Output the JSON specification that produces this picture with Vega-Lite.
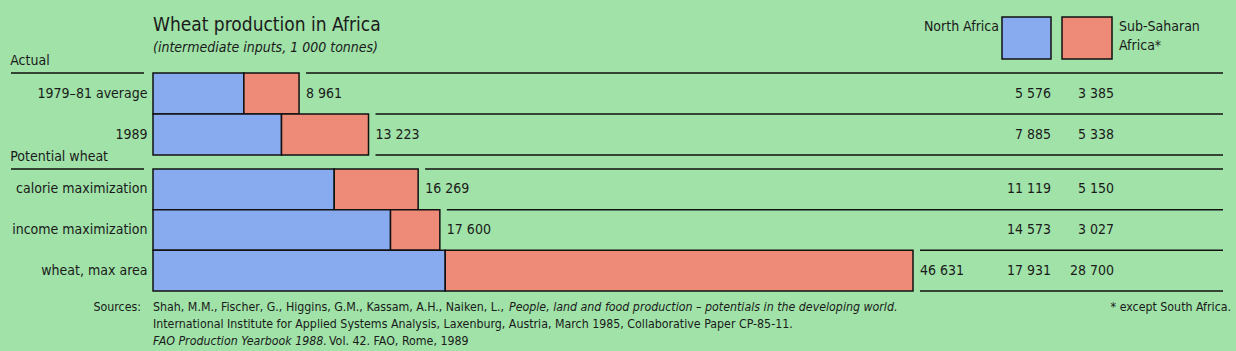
{
  "$schema": "https://vega.github.io/schema/vega-lite/v6.json",
  "background": "#a0e2a8",
  "padding": {"left": 10, "top": 16, "right": 6, "bottom": 6},
  "autosize": {"type": "pad"},
  "spacing": -6,
  "datasets": {
    "rows": [
      {"section": "Actual", "label": "1979–81 average", "north": 5576, "sub": 3385, "total": 8961},
      {"section": "Actual", "label": "1989", "north": 7885, "sub": 5338, "total": 13223},
      {"section": "Potential wheat", "label": "calorie maximization", "north": 11119, "sub": 5150, "total": 16269},
      {"section": "Potential wheat", "label": "income maximization", "north": 14573, "sub": 3027, "total": 17600},
      {"section": "Potential wheat", "label": "wheat, max area", "north": 17931, "sub": 28700, "total": 46631}
    ],
    "legend": [
      {"item": "north", "label": "North Africa"},
      {"item": "sub", "label": ["Sub-Saharan", "Africa*"]}
    ],
    "notes": [
      {"line": "1", "part": "head", "text": "Sources:"},
      {"line": "1", "part": "plain", "text": "Shah, M.M., Fischer, G., Higgins, G.M., Kassam, A.H., Naiken, L.,"},
      {"line": "1", "part": "book", "text": "People, land and food production – potentials in the developing world."},
      {"line": "2", "part": "plain", "text": "International Institute for Applied Systems Analysis, Laxenburg, Austria, March 1985, Collaborative Paper CP-85-11."},
      {"line": "3", "part": "yearbook", "text": "FAO Production Yearbook 1988."},
      {"line": "3", "part": "vol", "text": "Vol. 42. FAO, Rome, 1989"},
      {"line": "1", "part": "note", "text": "* except South Africa."}
    ]
  },
  "vconcat": [
    {
      "width": 1070,
      "height": 42,
      "title": {
        "text": "Wheat production in Africa",
        "subtitle": "(intermediate inputs, 1 000 tonnes)",
        "anchor": "start",
        "frame": "group",
        "offset": -39,
        "fontSize": 19,
        "subtitleFontSize": 14,
        "subtitleFontStyle": "italic",
        "subtitlePadding": 6
      },
      "data": {"name": "legend"},
      "layer": [
        {
          "transform": [{"filter": "datum.item === 'north'"}],
          "mark": {"type": "rect", "fill": "#88aaee", "stroke": "#111111", "strokeWidth": 1.5},
          "encoding": {
            "x": {"datum": 52092, "type": "quantitative", "scale": {"domain": [0, 65652], "nice": false, "zero": false}, "axis": null},
            "x2": {"datum": 55099}
          }
        },
        {
          "transform": [{"filter": "datum.item === 'sub'"}],
          "mark": {"type": "rect", "fill": "#ee8a78", "stroke": "#111111", "strokeWidth": 1.5},
          "encoding": {
            "x": {"datum": 55774, "type": "quantitative", "scale": {"domain": [0, 65652], "nice": false, "zero": false}, "axis": null},
            "x2": {"datum": 58842}
          }
        },
        {
          "transform": [{"filter": "datum.item === 'north'"}],
          "mark": {"type": "text", "align": "right", "baseline": "middle", "dx": -3, "dy": -11, "lineHeight": 19},
          "encoding": {
            "x": {"datum": 52092, "type": "quantitative", "scale": {"domain": [0, 65652], "nice": false, "zero": false}, "axis": null},
            "text": {"field": "label"}
          }
        },
        {
          "transform": [{"filter": "datum.item === 'sub'"}],
          "mark": {"type": "text", "align": "left", "baseline": "middle", "dx": 7, "dy": -11, "lineHeight": 19},
          "encoding": {
            "x": {"datum": 58842, "type": "quantitative", "scale": {"domain": [0, 65652], "nice": false, "zero": false}, "axis": null},
            "text": {"field": "label"}
          }
        }
      ]
    },
    {
      "width": 1070,
      "height": 82,
      "title": {"text": "Actual"},
      "data": {"name": "rows"},
      "transform": [{"filter": "datum.section === 'Actual'"}],
      "layer": [
        {
          "transform": [{"fold": ["north", "sub"], "as": ["series", "value"]}],
          "mark": {"type": "bar", "stroke": "#111111", "strokeWidth": 1.5},
          "encoding": {
            "y": {"field": "label", "type": "nominal", "sort": ["1979–81 average", "1989"], "scale": {"paddingInner": 0, "paddingOuter": 0}},
            "x": {"field": "value", "type": "quantitative", "stack": "zero", "scale": {"domain": [0, 65652], "nice": false, "zero": false}, "axis": null},
            "color": {"field": "series", "type": "nominal", "scale": {"domain": ["north", "sub"], "range": ["#88aaee", "#ee8a78"]}, "legend": null},
            "order": {"field": "series"}
          }
        },
        {
          "mark": {"type": "rule", "xOffset": 7, "color": "#111111", "strokeWidth": 1.5},
          "encoding": {
            "y": {"field": "label", "type": "nominal", "sort": ["1979–81 average", "1989"], "bandPosition": 0},
            "x": {"field": "total", "type": "quantitative"},
            "x2": {"datum": 65652}
          }
        },
        {
          "transform": [{"filter": "datum.label === '1989'"}],
          "mark": {"type": "rule", "xOffset": 7, "color": "#111111", "strokeWidth": 1.5},
          "encoding": {
            "y": {"field": "label", "type": "nominal", "sort": ["1979–81 average", "1989"], "bandPosition": 1},
            "x": {"field": "total", "type": "quantitative"},
            "x2": {"datum": 65652}
          }
        },
        {
          "transform": [{"filter": "datum.label === '1979–81 average'"}],
          "mark": {"type": "rule", "color": "#111111", "strokeWidth": 1.5},
          "encoding": {
            "y": {"field": "label", "type": "nominal", "sort": ["1979–81 average", "1989"], "bandPosition": 0},
            "x": {"datum": -8713, "type": "quantitative"},
            "x2": {"datum": -552}
          }
        },
        {
          "mark": {"type": "text", "align": "left", "baseline": "middle", "dx": 7},
          "encoding": {
            "y": {"field": "label", "type": "nominal", "sort": ["1979–81 average", "1989"]},
            "x": {"field": "total", "type": "quantitative"},
            "text": {"field": "total", "type": "quantitative", "format": ",d"}
          }
        },
        {
          "mark": {"type": "text", "align": "right", "baseline": "middle"},
          "encoding": {
            "y": {"field": "label", "type": "nominal", "sort": ["1979–81 average", "1989"]},
            "x": {"datum": 55099, "type": "quantitative"},
            "text": {"field": "north", "type": "quantitative", "format": ",d"}
          }
        },
        {
          "mark": {"type": "text", "align": "right", "baseline": "middle"},
          "encoding": {
            "y": {"field": "label", "type": "nominal", "sort": ["1979–81 average", "1989"]},
            "x": {"datum": 58964, "type": "quantitative"},
            "text": {"field": "sub", "type": "quantitative", "format": ",d"}
          }
        }
      ]
    },
    {
      "width": 1070,
      "height": 122,
      "title": {"text": "Potential wheat"},
      "data": {"name": "rows"},
      "transform": [{"filter": "datum.section === 'Potential wheat'"}],
      "layer": [
        {
          "transform": [{"fold": ["north", "sub"], "as": ["series", "value"]}],
          "mark": {"type": "bar", "stroke": "#111111", "strokeWidth": 1.5},
          "encoding": {
            "y": {"field": "label", "type": "nominal", "sort": ["calorie maximization", "income maximization", "wheat, max area"], "scale": {"paddingInner": 0, "paddingOuter": 0}},
            "x": {"field": "value", "type": "quantitative", "stack": "zero", "scale": {"domain": [0, 65652], "nice": false, "zero": false}, "axis": null},
            "color": {"field": "series", "type": "nominal", "scale": {"domain": ["north", "sub"], "range": ["#88aaee", "#ee8a78"]}, "legend": null},
            "order": {"field": "series"}
          }
        },
        {
          "mark": {"type": "rule", "xOffset": 7, "color": "#111111", "strokeWidth": 1.5},
          "encoding": {
            "y": {"field": "label", "type": "nominal", "sort": ["calorie maximization", "income maximization", "wheat, max area"], "bandPosition": 0},
            "x": {"field": "total", "type": "quantitative"},
            "x2": {"datum": 65652}
          }
        },
        {
          "transform": [{"filter": "datum.label === 'wheat, max area'"}],
          "mark": {"type": "rule", "xOffset": 7, "color": "#111111", "strokeWidth": 1.5},
          "encoding": {
            "y": {"field": "label", "type": "nominal", "sort": ["calorie maximization", "income maximization", "wheat, max area"], "bandPosition": 1},
            "x": {"field": "total", "type": "quantitative"},
            "x2": {"datum": 65652}
          }
        },
        {
          "transform": [{"filter": "datum.label === 'calorie maximization'"}],
          "mark": {"type": "rule", "color": "#111111", "strokeWidth": 1.5},
          "encoding": {
            "y": {"field": "label", "type": "nominal", "sort": ["calorie maximization", "income maximization", "wheat, max area"], "bandPosition": 0},
            "x": {"datum": -8713, "type": "quantitative"},
            "x2": {"datum": -552}
          }
        },
        {
          "mark": {"type": "text", "align": "left", "baseline": "middle", "dx": 7},
          "encoding": {
            "y": {"field": "label", "type": "nominal", "sort": ["calorie maximization", "income maximization", "wheat, max area"]},
            "x": {"field": "total", "type": "quantitative"},
            "text": {"field": "total", "type": "quantitative", "format": ",d"}
          }
        },
        {
          "mark": {"type": "text", "align": "right", "baseline": "middle"},
          "encoding": {
            "y": {"field": "label", "type": "nominal", "sort": ["calorie maximization", "income maximization", "wheat, max area"]},
            "x": {"datum": 55099, "type": "quantitative"},
            "text": {"field": "north", "type": "quantitative", "format": ",d"}
          }
        },
        {
          "mark": {"type": "text", "align": "right", "baseline": "middle"},
          "encoding": {
            "y": {"field": "label", "type": "nominal", "sort": ["calorie maximization", "income maximization", "wheat, max area"]},
            "x": {"datum": 58964, "type": "quantitative"},
            "text": {"field": "sub", "type": "quantitative", "format": ",d"}
          }
        }
      ]
    },
    {
      "width": 1070,
      "height": 51,
      "data": {"name": "notes"},
      "encoding": {
        "y": {"field": "line", "type": "nominal", "axis": null, "scale": {"paddingInner": 0, "paddingOuter": 0}}
      },
      "layer": [
        {
          "transform": [{"filter": "datum.part === 'head'"}],
          "mark": {"type": "text", "align": "right", "baseline": "middle", "fontSize": 12.3, "dy": 6},
          "encoding": {
            "x": {"datum": -736, "type": "quantitative", "scale": {"domain": [0, 65652], "nice": false, "zero": false}, "axis": null},
            "text": {"field": "text"}
          }
        },
        {
          "transform": [{"filter": "datum.part === 'plain'"}],
          "mark": {"type": "text", "align": "left", "baseline": "middle", "fontSize": 12.3, "dy": 6},
          "encoding": {
            "x": {"datum": 0, "type": "quantitative"},
            "text": {"field": "text"}
          }
        },
        {
          "transform": [{"filter": "datum.part === 'yearbook'"}],
          "mark": {"type": "text", "align": "left", "baseline": "middle", "fontSize": 12.3, "fontStyle": "italic", "dy": 6},
          "encoding": {
            "x": {"datum": 0, "type": "quantitative"},
            "text": {"field": "text"}
          }
        },
        {
          "transform": [{"filter": "datum.part === 'book'"}],
          "mark": {"type": "text", "align": "left", "baseline": "middle", "fontSize": 12.3, "fontStyle": "italic", "dy": 6},
          "encoding": {
            "x": {"datum": 21843, "type": "quantitative"},
            "text": {"field": "text"}
          }
        },
        {
          "transform": [{"filter": "datum.part === 'vol'"}],
          "mark": {"type": "text", "align": "left", "baseline": "middle", "fontSize": 12.3, "dy": 6},
          "encoding": {
            "x": {"datum": 10799, "type": "quantitative"},
            "text": {"field": "text"}
          }
        },
        {
          "transform": [{"filter": "datum.part === 'note'"}],
          "mark": {"type": "text", "align": "right", "baseline": "middle", "fontSize": 12.3, "dy": 6},
          "encoding": {
            "x": {"datum": 66143, "type": "quantitative"},
            "text": {"field": "text"}
          }
        }
      ]
    }
  ],
  "config": {
    "font": "'DejaVu Sans Condensed', 'DejaVu Sans', sans-serif",
    "view": {"stroke": null},
    "title": {
      "font": "'DejaVu Sans Condensed', 'DejaVu Sans', sans-serif",
      "fontSize": 14,
      "fontWeight": "normal",
      "color": "#1a1a1a",
      "anchor": "start",
      "frame": "bounds",
      "offset": 0,
      "subtitleFont": "'DejaVu Sans Condensed', 'DejaVu Sans', sans-serif",
      "subtitleColor": "#1a1a1a"
    },
    "axisY": {
      "title": null,
      "domain": false,
      "ticks": false,
      "labelPadding": 6,
      "labelFontSize": 14,
      "labelFont": "'DejaVu Sans Condensed', 'DejaVu Sans', sans-serif",
      "labelColor": "#1a1a1a",
      "labelLimit": 0
    },
    "text": {"font": "'DejaVu Sans Condensed', 'DejaVu Sans', sans-serif", "fontSize": 14, "color": "#1a1a1a"},
    "locale": {"number": {"decimal": ".", "thousands": " ", "grouping": [3], "currency": ["", ""]}}
  }
}
